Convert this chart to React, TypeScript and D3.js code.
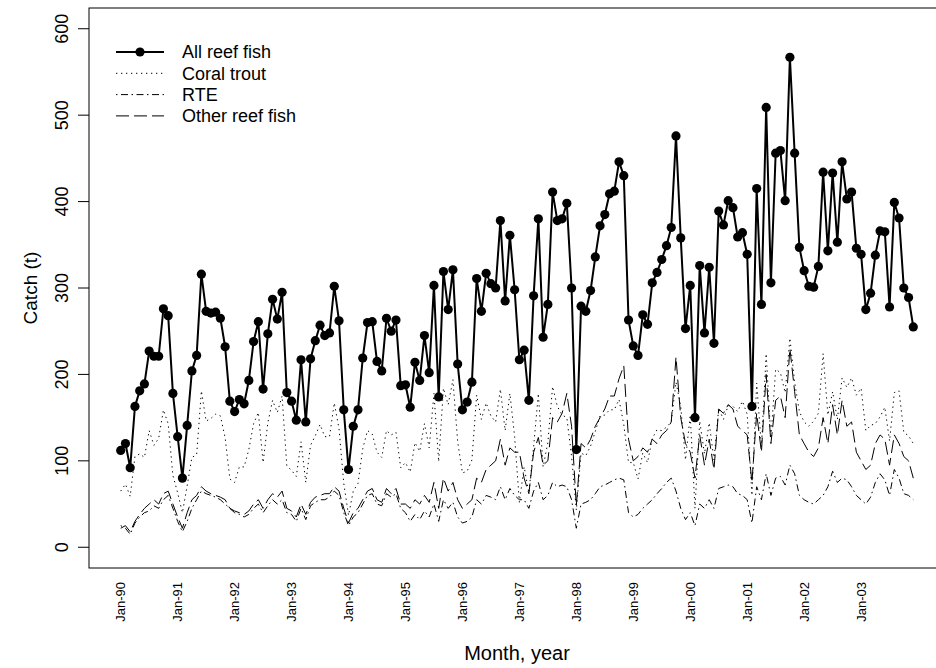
import React from 'react';
import * as d3 from 'd3';

// Monthly catch (t), Jan-1990 .. Dec-2003
const allReefFish = [
  112, 120, 92, 163, 181, 189, 227, 221, 221, 276, 268, 178,
  128, 80, 141, 204, 222, 316, 273, 271, 272, 265, 232, 169,
  157, 171, 166, 193, 238, 261, 183, 247, 287, 264, 295, 179,
  169, 147, 217, 145, 218, 239, 257, 245, 248, 302, 262, 159,
  90, 140, 159, 219, 260, 261, 215, 204, 265, 250, 263, 187,
  188, 162, 214, 193, 245, 202, 303, 174, 319, 275, 321, 212,
  159, 168, 191, 311, 273, 317, 305, 300, 378, 285, 361, 298,
  217, 228, 170, 291, 380, 243, 281, 411, 378, 380, 398, 300,
  113, 279, 273, 297, 336, 372, 385, 409, 412, 446, 430, 263,
  233, 222, 269, 258, 306, 318, 333, 349, 370, 476, 358, 253,
  303, 150, 326, 248, 324, 236, 389, 373, 401, 393, 359, 364,
  339, 163, 415, 281, 509, 306, 456, 459, 401, 567, 456, 347,
  320, 302, 301, 325, 434, 343, 433, 353, 446, 403, 411, 346,
  339, 275, 294, 338, 366, 365, 278, 399, 381, 300, 289, 255,
];

const coralTrout = [
  65, 73, 59, 105, 108, 104, 135, 118, 126, 159, 143, 83,
  63, 40, 71, 104, 107, 181, 146, 149, 154, 152, 127, 79,
  75, 93, 93, 113, 143, 156, 98, 144, 170, 156, 175, 94,
  89, 82, 122, 75, 118, 129, 142, 128, 128, 167, 137, 74,
  37, 65, 74, 114, 135, 131, 110, 104, 135, 130, 133, 92,
  98, 87, 121, 111, 143, 115, 178, 99, 184, 165, 194, 122,
  86, 88, 101, 176, 148, 167, 152, 145, 183, 135, 178, 128,
  52, 93, 63, 116, 178, 93, 121, 186, 163, 153, 150, 105,
  43, 109, 106, 117, 134, 152, 153, 159, 159, 171, 142, 98,
  98, 79, 109, 98, 126, 136, 135, 139, 145, 191, 163, 101,
  153, 45, 146, 108, 144, 101, 161, 148, 164, 163, 157, 169,
  154, 60, 190, 116, 224, 126, 206, 202, 179, 242, 191, 157,
  145, 140, 146, 155, 224, 153, 180, 148, 196, 185, 196, 176,
  184, 135, 141, 143, 151, 162, 123, 179, 181, 133, 129, 120,
];

const rte = [
  25, 22, 15, 28, 35, 40, 42, 48, 45, 55, 60, 45,
  30, 18, 30, 45, 55, 65, 62, 60, 58, 55, 50, 45,
  40, 38, 35, 38, 45, 50, 40, 48, 55, 50, 55, 40,
  38, 30, 45, 32, 48, 52, 55, 55, 58, 65, 60, 40,
  25, 35, 40, 50, 60, 62, 50, 48, 62, 58, 62, 45,
  40, 30, 38, 32, 42, 35, 50, 30, 55, 45, 52, 35,
  28, 30, 35, 55, 50, 60, 58, 55, 70, 55, 68, 60,
  55, 55, 45, 65, 75, 55, 60, 75, 70, 72, 70, 55,
  22, 50, 52, 55, 62, 70, 72, 75, 78, 80, 78, 40,
  35, 38, 45, 50, 55, 62, 68, 75, 80, 65, 45, 32,
  40, 25, 50, 45, 55, 45, 68, 70, 72, 70, 62, 60,
  55, 28, 70, 55, 85, 60, 80, 82, 72, 95, 85, 60,
  55, 52, 50, 55, 60, 70, 88, 75, 80, 78, 70, 60,
  55, 50, 58, 75, 85, 78, 60, 90, 80, 62, 60, 55,
];

const otherReefFish = [
  22, 25, 18, 30, 38, 45, 50, 55, 50, 62, 65, 50,
  35, 22, 40, 55, 60, 70, 65, 62, 60, 58, 55, 45,
  42, 40, 38, 42, 50, 55, 45, 55, 62, 58, 65, 45,
  42, 35, 50, 38, 52, 58, 60, 62, 62, 70, 65, 45,
  28, 40, 45, 55, 65, 68, 55, 52, 68, 62, 68, 50,
  50, 45, 55, 50, 60, 52, 75, 45, 80, 65, 75, 55,
  45, 50, 55, 80, 75, 90, 95, 100, 125, 95, 115, 110,
  110, 80, 62, 110, 127, 95, 100, 150, 145, 155, 178, 140,
  48, 120, 115, 125, 140, 150, 160, 175, 175, 195, 210, 125,
  100, 105, 115, 110, 125, 120, 130, 135, 145, 220, 150, 120,
  110, 80, 130, 95, 125, 90, 160, 155, 165, 160, 140, 135,
  130, 75, 155, 110, 200, 120, 170, 175, 150, 230, 180, 130,
  120, 110, 105, 115, 150, 120, 165, 130, 170, 140, 145, 110,
  100, 90, 95, 120, 130, 125, 95, 130, 120, 105, 100, 80,
];

const xTickLabels = [
  'Jan-90', 'Jan-91', 'Jan-92', 'Jan-93', 'Jan-94', 'Jan-95', 'Jan-96',
  'Jan-97', 'Jan-98', 'Jan-99', 'Jan-00', 'Jan-01', 'Jan-02', 'Jan-03',
];
const yTicks = [0, 100, 200, 300, 400, 500, 600];

const seriesNames = ['All reef fish', 'Coral trout', 'RTE', 'Other reef fish'];

const FONT = 'Liberation Sans, Arial, Helvetica, sans-serif';

export default function App() {
  const W = 936;
  const H = 668;
  const n = allReefFish.length;
  const pad = (n - 1) * 0.04;
  const x = d3.scaleLinear().domain([-pad, n - 1 + pad]).range([89, 945]);
  const y = d3.scaleLinear().domain([-24, 624]).range([568, 8]);

  const mkLine = (data: number[]) =>
    d3.line<number>().x((_, i) => x(i)).y((d) => y(d))(data) || '';

  const styles = [
    { dash: undefined as string | undefined, width: 2, data: allReefFish },
    { dash: '1.3,3.7', width: 1, data: coralTrout },
    { dash: '1.5,3.5,7,3.5', width: 1, data: rte },
    { dash: '13,5', width: 1, data: otherReefFish },
  ];

  const left = x.range()[0];
  const right = x.range()[1];
  const top = y.range()[1];
  const bottom = y.range()[0];

  const legendX = 116;
  const legendY0 = 52;
  const legendDy = 21.3;

  return (
    <svg
      width={W}
      height={H}
      style={{ position: 'absolute', left: 0, top: 0, background: '#fff' }}
      fontFamily={FONT}
    >
      <rect x={0} y={0} width={W} height={H} fill="#fff" />
      {/* lines */}
      {styles.slice(1).map((s, k) => (
        <path
          key={k}
          d={mkLine(s.data)}
          fill="none"
          stroke="#000"
          strokeWidth={s.width}
          strokeDasharray={s.dash}
        />
      ))}
      <path d={mkLine(allReefFish)} fill="none" stroke="#000" strokeWidth={2} strokeLinejoin="round" />
      {allReefFish.map((v, i) => (
        <circle key={i} cx={x(i)} cy={y(v)} r={4.6} fill="#000" />
      ))}

      {/* box */}
      <rect x={left} y={top} width={right - left} height={bottom - top} fill="none" stroke="#000" strokeWidth={1} />

      {/* y axis */}
      {yTicks.map((t) => (
        <g key={t}>
          <line x1={left - 11} x2={left} y1={y(t)} y2={y(t)} stroke="#000" strokeWidth={1} />
          <text
            transform={`translate(68,${y(t)}) rotate(-90)`}
            textAnchor="middle"
            fontSize={18}
            fill="#000"
          >
            {t}
          </text>
        </g>
      ))}

      {/* x tick labels */}
      {xTickLabels.map((lab, k) => (
        <text
          key={lab}
          transform={`translate(${x(k * 12)},582) rotate(-90)`}
          textAnchor="end"
          dy="0.35em"
          fontSize={13}
          fill="#000"
        >
          {lab}
        </text>
      ))}

      {/* axis titles */}
      <text x={(left + right) / 2} y={660} textAnchor="middle" fontSize={20} fill="#000">
        Month, year
      </text>
      <text transform={`translate(37,${(top + bottom) / 2}) rotate(-90)`} textAnchor="middle" fontSize={19} fill="#000">
        Catch (t)
      </text>

      {/* legend */}
      {seriesNames.map((name, k) => {
        const ly = legendY0 + k * legendDy;
        const s = styles[k];
        return (
          <g key={name}>
            <line
              x1={legendX}
              x2={legendX + 48}
              y1={ly}
              y2={ly}
              stroke="#000"
              strokeWidth={s.width}
              strokeDasharray={s.dash}
            />
            {k === 0 && <circle cx={legendX + 24} cy={ly} r={4.6} fill="#000" />}
            <text x={182} y={ly} dy="0.35em" fontSize={18} fill="#000">
              {name}
            </text>
          </g>
        );
      })}
    </svg>
  );
}
